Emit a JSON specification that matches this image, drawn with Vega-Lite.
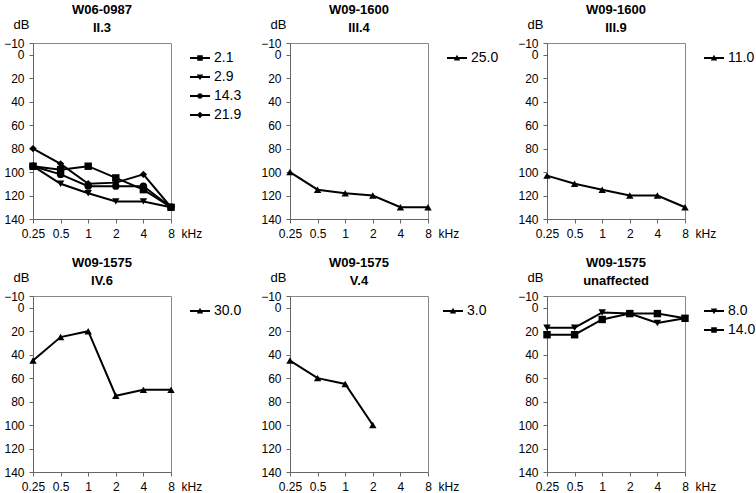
{
"$schema": "https://vega.github.io/schema/vega-lite/v6.json",
"padding": {"left": 3, "top": 3, "right": 0, "bottom": 0},
"background": "white",
"datasets": {"d": [
{"panel":"p1","series":"2.1","kHz":"0.25","dB":95},{"panel":"p1","series":"2.1","kHz":"0.5","dB":98},{"panel":"p1","series":"2.1","kHz":"1","dB":95},{"panel":"p1","series":"2.1","kHz":"2","dB":105},{"panel":"p1","series":"2.1","kHz":"4","dB":115},{"panel":"p1","series":"2.1","kHz":"8","dB":130},
{"panel":"p1","series":"2.9","kHz":"0.25","dB":95},{"panel":"p1","series":"2.9","kHz":"0.5","dB":110},{"panel":"p1","series":"2.9","kHz":"1","dB":118},{"panel":"p1","series":"2.9","kHz":"2","dB":125},{"panel":"p1","series":"2.9","kHz":"4","dB":125},{"panel":"p1","series":"2.9","kHz":"8","dB":130},
{"panel":"p1","series":"14.3","kHz":"0.25","dB":95},{"panel":"p1","series":"14.3","kHz":"0.5","dB":102},{"panel":"p1","series":"14.3","kHz":"1","dB":112},{"panel":"p1","series":"14.3","kHz":"2","dB":112},{"panel":"p1","series":"14.3","kHz":"4","dB":112},{"panel":"p1","series":"14.3","kHz":"8","dB":130},
{"panel":"p1","series":"21.9","kHz":"0.25","dB":80},{"panel":"p1","series":"21.9","kHz":"0.5","dB":93},{"panel":"p1","series":"21.9","kHz":"1","dB":110},{"panel":"p1","series":"21.9","kHz":"2","dB":109},{"panel":"p1","series":"21.9","kHz":"4","dB":102},{"panel":"p1","series":"21.9","kHz":"8","dB":130},
{"panel":"p2","series":"25.0","kHz":"0.25","dB":100},{"panel":"p2","series":"25.0","kHz":"0.5","dB":115},{"panel":"p2","series":"25.0","kHz":"1","dB":118},{"panel":"p2","series":"25.0","kHz":"2","dB":120},{"panel":"p2","series":"25.0","kHz":"4","dB":130},{"panel":"p2","series":"25.0","kHz":"8","dB":130},
{"panel":"p3","series":"11.0","kHz":"0.25","dB":103},{"panel":"p3","series":"11.0","kHz":"0.5","dB":110},{"panel":"p3","series":"11.0","kHz":"1","dB":115},{"panel":"p3","series":"11.0","kHz":"2","dB":120},{"panel":"p3","series":"11.0","kHz":"4","dB":120},{"panel":"p3","series":"11.0","kHz":"8","dB":130},
{"panel":"p4","series":"30.0","kHz":"0.25","dB":45},{"panel":"p4","series":"30.0","kHz":"0.5","dB":25},{"panel":"p4","series":"30.0","kHz":"1","dB":20},{"panel":"p4","series":"30.0","kHz":"2","dB":75},{"panel":"p4","series":"30.0","kHz":"4","dB":70},{"panel":"p4","series":"30.0","kHz":"8","dB":70},
{"panel":"p5","series":"3.0","kHz":"0.25","dB":45},{"panel":"p5","series":"3.0","kHz":"0.5","dB":60},{"panel":"p5","series":"3.0","kHz":"1","dB":65},{"panel":"p5","series":"3.0","kHz":"2","dB":100},
{"panel":"p6","series":"8.0","kHz":"0.25","dB":17},{"panel":"p6","series":"8.0","kHz":"0.5","dB":17},{"panel":"p6","series":"8.0","kHz":"1","dB":4},{"panel":"p6","series":"8.0","kHz":"2","dB":5},{"panel":"p6","series":"8.0","kHz":"4","dB":13},{"panel":"p6","series":"8.0","kHz":"8","dB":9},
{"panel":"p6","series":"14.0","kHz":"0.25","dB":23},{"panel":"p6","series":"14.0","kHz":"0.5","dB":23},{"panel":"p6","series":"14.0","kHz":"1","dB":10},{"panel":"p6","series":"14.0","kHz":"2","dB":5},{"panel":"p6","series":"14.0","kHz":"4","dB":5},{"panel":"p6","series":"14.0","kHz":"8","dB":9}
]},
"columns": 3,
"spacing": {"row": 16, "column": 13},
"resolve": {"scale": {"shape": "independent", "x": "independent", "y": "independent"}, "legend": {"shape": "independent"}},
"concat": [
{"width": 138, "height": 176, "title": {"text": "W06-0987", "subtitle": "II.3"},
 "data": {"name": "d"},
 "transform": [{"filter": "datum.panel == 'p1'"}],
 "encoding": {
  "x": {"field": "kHz", "type": "ordinal", "scale": {"type": "point", "domain": ["0.25","0.5","1","2","4","8"], "padding": 0}, "axis": {"title": "kHz", "labelAngle": 0, "titleX": 148, "titleY": 14, "titleAlign": "left", "titleBaseline": "middle", "titleFontWeight": "normal", "titleFontSize": 12}},
  "y": {"field": "dB", "type": "quantitative", "scale": {"domain": [-10, 140], "reverse": true, "nice": false, "zero": false}, "axis": {"values": [-10,0,20,40,60,80,100,120,140], "title": "dB", "titleAngle": 0, "titleX": -12, "titleY": -19, "titleAlign": "center", "titleBaseline": "middle", "titleFontWeight": "normal", "titleFontSize": 13, "labelOverlap": false}}
 },
 "layer": [
  {"mark": {"type": "line", "color": "black", "strokeWidth": 2}, "encoding": {"detail": {"field": "series"}}},
  {"mark": {"type": "point", "filled": true, "color": "black", "opacity": 1, "size": 55},
   "encoding": {"shape": {"field": "series", "type": "nominal", "scale": {"domain": ["2.1","2.9","14.3","21.9"], "range": ["square","triangle-down","circle","diamond"]}, "legend": null}}},
  {"transform": [{"filter": "datum.panel == 'none'"}], "mark": {"type": "point", "filled": true, "color": "black", "opacity": 1, "size": 400},
   "encoding": {"shape": {"field": "series", "type": "nominal", "scale": {"domain": ["2.1","2.9","14.3","21.9"], "range": ["M-1,-0.1H1V0.1H-1ZM-0.28,-0.28H0.28V0.28H-0.28Z","M-1,-0.1H1V0.1H-1ZM-0.32,-0.25H0.32L0,0.32Z","M-1,-0.1H1V0.1H-1ZM-0.28,0A0.28,0.28,0,1,1,0.28,0A0.28,0.28,0,1,1,-0.28,0Z","M-1,-0.1H1V0.1H-1ZM0,-0.33L0.33,0L0,0.33L-0.33,0Z"]}, "legend": {"title": null, "symbolSize": 400}}}}
 ],
 "resolve": {"scale": {"shape": "independent"}}
},
{"width": 138, "height": 176, "title": {"text": "W09-1600", "subtitle": "III.4"},
 "data": {"name": "d"},
 "transform": [{"filter": "datum.panel == 'p2'"}],
 "encoding": {
  "x": {"field": "kHz", "type": "ordinal", "scale": {"type": "point", "domain": ["0.25","0.5","1","2","4","8"], "padding": 0}, "axis": {"title": "kHz", "labelAngle": 0, "titleX": 148, "titleY": 14, "titleAlign": "left", "titleBaseline": "middle", "titleFontWeight": "normal", "titleFontSize": 12}},
  "y": {"field": "dB", "type": "quantitative", "scale": {"domain": [-10, 140], "reverse": true, "nice": false, "zero": false}, "axis": {"values": [-10,0,20,40,60,80,100,120,140], "title": "dB", "titleAngle": 0, "titleX": -12, "titleY": -19, "titleAlign": "center", "titleBaseline": "middle", "titleFontWeight": "normal", "titleFontSize": 13, "labelOverlap": false}}
 },
 "layer": [
  {"mark": {"type": "line", "color": "black", "strokeWidth": 2}, "encoding": {"detail": {"field": "series"}}},
  {"mark": {"type": "point", "filled": true, "color": "black", "opacity": 1, "size": 55},
   "encoding": {"shape": {"field": "series", "type": "nominal", "scale": {"domain": ["25.0"], "range": ["triangle-up"]}, "legend": null}}},
  {"transform": [{"filter": "datum.panel == 'none'"}], "mark": {"type": "point", "filled": true, "color": "black", "opacity": 1, "size": 400},
   "encoding": {"shape": {"field": "series", "type": "nominal", "scale": {"domain": ["25.0"], "range": ["M-1,-0.1H1V0.1H-1ZM0,-0.32L0.32,0.25H-0.32Z"]}, "legend": {"title": null, "symbolSize": 400}}}}
 ],
 "resolve": {"scale": {"shape": "independent"}}
},
{"width": 138, "height": 176, "title": {"text": "W09-1600", "subtitle": "III.9"},
 "data": {"name": "d"},
 "transform": [{"filter": "datum.panel == 'p3'"}],
 "encoding": {
  "x": {"field": "kHz", "type": "ordinal", "scale": {"type": "point", "domain": ["0.25","0.5","1","2","4","8"], "padding": 0}, "axis": {"title": "kHz", "labelAngle": 0, "titleX": 148, "titleY": 14, "titleAlign": "left", "titleBaseline": "middle", "titleFontWeight": "normal", "titleFontSize": 12}},
  "y": {"field": "dB", "type": "quantitative", "scale": {"domain": [-10, 140], "reverse": true, "nice": false, "zero": false}, "axis": {"values": [-10,0,20,40,60,80,100,120,140], "title": "dB", "titleAngle": 0, "titleX": -12, "titleY": -19, "titleAlign": "center", "titleBaseline": "middle", "titleFontWeight": "normal", "titleFontSize": 13, "labelOverlap": false}}
 },
 "layer": [
  {"mark": {"type": "line", "color": "black", "strokeWidth": 2}, "encoding": {"detail": {"field": "series"}}},
  {"mark": {"type": "point", "filled": true, "color": "black", "opacity": 1, "size": 55},
   "encoding": {"shape": {"field": "series", "type": "nominal", "scale": {"domain": ["11.0"], "range": ["triangle-up"]}, "legend": null}}},
  {"transform": [{"filter": "datum.panel == 'none'"}], "mark": {"type": "point", "filled": true, "color": "black", "opacity": 1, "size": 400},
   "encoding": {"shape": {"field": "series", "type": "nominal", "scale": {"domain": ["11.0"], "range": ["M-1,-0.1H1V0.1H-1ZM0,-0.32L0.32,0.25H-0.32Z"]}, "legend": {"title": null, "symbolSize": 400}}}}
 ],
 "resolve": {"scale": {"shape": "independent"}}
},
{"width": 138, "height": 176, "title": {"text": "W09-1575", "subtitle": "IV.6"},
 "data": {"name": "d"},
 "transform": [{"filter": "datum.panel == 'p4'"}],
 "encoding": {
  "x": {"field": "kHz", "type": "ordinal", "scale": {"type": "point", "domain": ["0.25","0.5","1","2","4","8"], "padding": 0}, "axis": {"title": "kHz", "labelAngle": 0, "titleX": 148, "titleY": 14, "titleAlign": "left", "titleBaseline": "middle", "titleFontWeight": "normal", "titleFontSize": 12}},
  "y": {"field": "dB", "type": "quantitative", "scale": {"domain": [-10, 140], "reverse": true, "nice": false, "zero": false}, "axis": {"values": [-10,0,20,40,60,80,100,120,140], "title": "dB", "titleAngle": 0, "titleX": -12, "titleY": -19, "titleAlign": "center", "titleBaseline": "middle", "titleFontWeight": "normal", "titleFontSize": 13, "labelOverlap": false}}
 },
 "layer": [
  {"mark": {"type": "line", "color": "black", "strokeWidth": 2}, "encoding": {"detail": {"field": "series"}}},
  {"mark": {"type": "point", "filled": true, "color": "black", "opacity": 1, "size": 55},
   "encoding": {"shape": {"field": "series", "type": "nominal", "scale": {"domain": ["30.0"], "range": ["triangle-up"]}, "legend": null}}},
  {"transform": [{"filter": "datum.panel == 'none'"}], "mark": {"type": "point", "filled": true, "color": "black", "opacity": 1, "size": 400},
   "encoding": {"shape": {"field": "series", "type": "nominal", "scale": {"domain": ["30.0"], "range": ["M-1,-0.1H1V0.1H-1ZM0,-0.32L0.32,0.25H-0.32Z"]}, "legend": {"title": null, "symbolSize": 400}}}}
 ],
 "resolve": {"scale": {"shape": "independent"}}
},
{"width": 138, "height": 176, "title": {"text": "W09-1575", "subtitle": "V.4"},
 "data": {"name": "d"},
 "transform": [{"filter": "datum.panel == 'p5'"}],
 "encoding": {
  "x": {"field": "kHz", "type": "ordinal", "scale": {"type": "point", "domain": ["0.25","0.5","1","2","4","8"], "padding": 0}, "axis": {"title": "kHz", "labelAngle": 0, "titleX": 148, "titleY": 14, "titleAlign": "left", "titleBaseline": "middle", "titleFontWeight": "normal", "titleFontSize": 12}},
  "y": {"field": "dB", "type": "quantitative", "scale": {"domain": [-10, 140], "reverse": true, "nice": false, "zero": false}, "axis": {"values": [-10,0,20,40,60,80,100,120,140], "title": "dB", "titleAngle": 0, "titleX": -12, "titleY": -19, "titleAlign": "center", "titleBaseline": "middle", "titleFontWeight": "normal", "titleFontSize": 13, "labelOverlap": false}}
 },
 "layer": [
  {"mark": {"type": "line", "color": "black", "strokeWidth": 2}, "encoding": {"detail": {"field": "series"}}},
  {"mark": {"type": "point", "filled": true, "color": "black", "opacity": 1, "size": 55},
   "encoding": {"shape": {"field": "series", "type": "nominal", "scale": {"domain": ["3.0"], "range": ["triangle-up"]}, "legend": null}}},
  {"transform": [{"filter": "datum.panel == 'none'"}], "mark": {"type": "point", "filled": true, "color": "black", "opacity": 1, "size": 400},
   "encoding": {"shape": {"field": "series", "type": "nominal", "scale": {"domain": ["3.0"], "range": ["M-1,-0.1H1V0.1H-1ZM0,-0.32L0.32,0.25H-0.32Z"]}, "legend": {"title": null, "symbolSize": 400}}}}
 ],
 "resolve": {"scale": {"shape": "independent"}}
},
{"width": 138, "height": 176, "title": {"text": "W09-1575", "subtitle": "unaffected"},
 "data": {"name": "d"},
 "transform": [{"filter": "datum.panel == 'p6'"}],
 "encoding": {
  "x": {"field": "kHz", "type": "ordinal", "scale": {"type": "point", "domain": ["0.25","0.5","1","2","4","8"], "padding": 0}, "axis": {"title": "kHz", "labelAngle": 0, "titleX": 148, "titleY": 14, "titleAlign": "left", "titleBaseline": "middle", "titleFontWeight": "normal", "titleFontSize": 12}},
  "y": {"field": "dB", "type": "quantitative", "scale": {"domain": [-10, 140], "reverse": true, "nice": false, "zero": false}, "axis": {"values": [-10,0,20,40,60,80,100,120,140], "title": "dB", "titleAngle": 0, "titleX": -12, "titleY": -19, "titleAlign": "center", "titleBaseline": "middle", "titleFontWeight": "normal", "titleFontSize": 13, "labelOverlap": false}}
 },
 "layer": [
  {"mark": {"type": "line", "color": "black", "strokeWidth": 2}, "encoding": {"detail": {"field": "series"}}},
  {"mark": {"type": "point", "filled": true, "color": "black", "opacity": 1, "size": 55},
   "encoding": {"shape": {"field": "series", "type": "nominal", "scale": {"domain": ["8.0","14.0"], "range": ["triangle-down","square"]}, "legend": null}}},
  {"transform": [{"filter": "datum.panel == 'none'"}], "mark": {"type": "point", "filled": true, "color": "black", "opacity": 1, "size": 400},
   "encoding": {"shape": {"field": "series", "type": "nominal", "scale": {"domain": ["8.0","14.0"], "range": ["M-1,-0.1H1V0.1H-1ZM-0.32,-0.25H0.32L0,0.32Z","M-1,-0.1H1V0.1H-1ZM-0.28,-0.28H0.28V0.28H-0.28Z"]}, "legend": {"title": null, "symbolSize": 400}}}}
 ],
 "resolve": {"scale": {"shape": "independent"}}
}
],
"config": {
 "font": "Liberation Sans",
 "view": {"stroke": "#888", "strokeWidth": 1},
 "axis": {"labelFont": "Liberation Sans", "labelFontSize": 12, "labelColor": "black", "titleColor": "black", "titleFont": "Liberation Sans", "domainColor": "#666", "tickColor": "#666", "tickSize": 4, "grid": false, "labelPadding": 5, "labelOverlap": false, "labelBound": false},
 "legend": {"labelFont": "Liberation Sans", "labelFontSize": 14, "labelColor": "black", "labelOffset": 3, "rowPadding": 1, "offset": 10, "padding": 4, "orient": "right"},
 "title": {"font": "Liberation Sans", "fontSize": 13, "fontWeight": "bold", "anchor": "middle", "color": "black", "offset": -17, "subtitleFont": "Liberation Sans", "subtitleFontSize": 13, "subtitleFontWeight": "bold", "subtitleColor": "black", "subtitlePadding": 5}
}
}
